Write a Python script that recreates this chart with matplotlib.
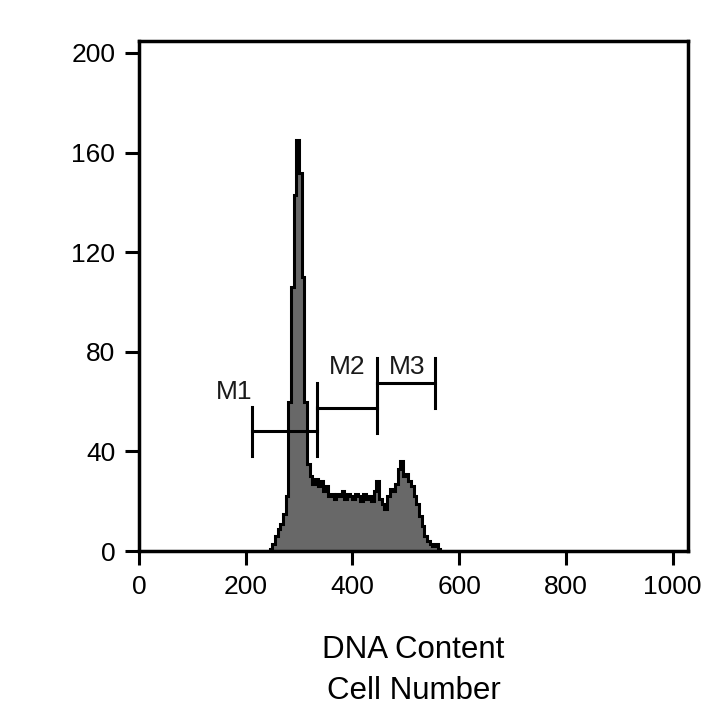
import numpy as np
import matplotlib
matplotlib.use("Agg")
import matplotlib.pyplot as plt

plt.rcParams['font.family'] = ['Liberation Sans', 'DejaVu Sans']

# histogram channels (left edge of each 5-unit bin) and counts
bin_left = list(range(245, 570, 5))
counts = [1, 3, 6, 9, 11, 15, 22, 60, 106, 143, 165, 152, 110, 60, 35, 30,
          27, 29, 26, 28, 24, 26, 22, 23, 21, 23, 22, 24, 21, 23, 22, 21,
          23, 22, 20, 23, 21, 22, 20, 24, 28, 21, 19, 17, 22, 25, 24, 27,
          33, 36, 30, 31, 28, 26, 22, 19, 14, 10, 6, 4, 3, 2, 3, 1, 0]
bin_width = 5

# markers: name, start, end, bar height
markers = ['M1', 'M2', 'M3']
m_start = [212, 334, 447]
m_end = [334, 447, 554]
m_level = [48, 57.5, 67.5]
label_x = [178, 391, 503]
label_y = [64, 74, 74]

xticks = [0, 200, 400, 600, 800, 1000]
yticks = [0, 40, 80, 120, 160, 200]

fig = plt.figure(figsize=(7.2, 7.2), dpi=100)
ax = fig.add_axes([0.193, 0.2347, 0.7626, 0.709])

edges = np.array(bin_left + [bin_left[-1] + bin_width])
vals = np.array(counts)
ax.stairs(vals, edges, fill=True, color='#686868', zorder=2)
ax.stairs(vals, edges, color='black', linewidth=2.2, zorder=3)

for name, a, b, h, tx, ty in zip(markers, m_start, m_end, m_level, label_x, label_y):
    ax.plot([a, b], [h, h], color='black', lw=2.2, zorder=4)
    ax.plot([a, a], [h - 10, h + 10], color='black', lw=2.2, zorder=4)
    ax.plot([b, b], [h - 10, h + 10], color='black', lw=2.2, zorder=4)
    ax.text(tx, ty, name, fontsize=19, ha='center', va='center', color='#1a1a1a')

ax.set_xlim(0, 1029)
ax.set_ylim(0, 205)
ax.set_xticks(xticks)
ax.set_yticks(yticks)
ax.tick_params(direction='out', length=10, width=2.2, labelsize=19, pad=7)
for s in ax.spines.values():
    s.set_linewidth(2.5)

ax.set_xlabel('DNA Content\nCell Number', fontsize=22.5, linespacing=1.5, labelpad=26)

fig.savefig('out.png', dpi=100)
